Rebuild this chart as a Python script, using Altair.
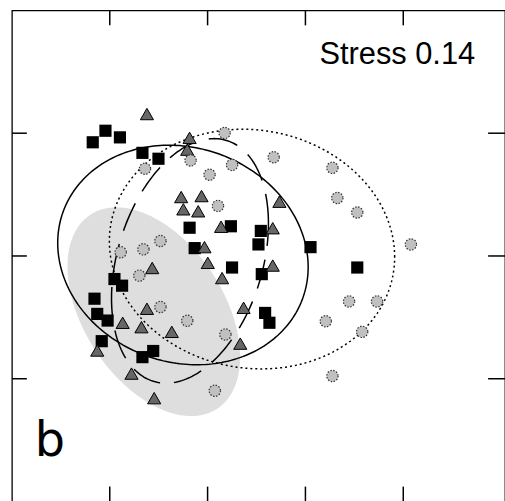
import numpy as np
import pandas as pd
import altair as alt

# NMDS scores (axis 1, axis 2) for the three groups of samples
sq_x = [-1.087, -1.022, -0.948, -0.833, -0.751, -0.592, -0.381, -0.566, -0.228, -0.240,
        0.026, -0.375, -0.223, 0.265, -0.976, -0.937, -1.078, -1.064, -1.011, -0.206,
        -0.184, -1.041, -0.778, -0.833]
sq_y = [0.463, 0.510, 0.483, 0.420, 0.396, 0.115, 0.121, 0.032, 0.102, 0.047,
        0.036, -0.047, -0.074, -0.047, -0.094, -0.121, -0.174, -0.236, -0.263, -0.232,
        -0.272, -0.347, -0.387, -0.412]

tri_x = [-0.810, -0.592, -0.604, -0.635, -0.531, -0.624, -0.548, -0.133, -0.431, -0.167,
         -0.516, -0.499, -0.167, -0.783, -0.426, -0.810, -0.316, -0.934, -0.838, -0.683,
         -0.333, -1.064, -0.889, -0.773]
tri_y = [0.578, 0.481, 0.433, 0.240, 0.244, 0.190, 0.182, 0.221, 0.119, 0.113,
         0.036, -0.028, -0.039, -0.049, -0.090, -0.215, -0.211, -0.272, -0.290, -0.309,
         -0.357, -0.385, -0.479, -0.579]

cir_x = [-0.413, -0.820, -0.587, -0.375, -0.490, -0.162, 0.138, -0.447, 0.163, 0.265,
         0.539, -0.741, -0.828, -0.944, -0.849, -0.741, -0.604, -0.409, 0.223, 0.366,
         0.104, 0.290, -0.463, 0.138]
cir_y = [0.501, 0.355, 0.389, 0.371, 0.331, 0.402, 0.359, 0.204, 0.236, 0.177,
         0.047, 0.061, 0.027, 0.015, -0.080, -0.208, -0.264, -0.320, -0.185, -0.185,
         -0.266, -0.309, -0.549, -0.489]

# Confidence ellipses: centre, half extent along each axis,
# and the axis-2 offset of the point at the axis-1 extreme (sets the tilt)
ell_name = ["solid", "dashed", "dotted", "shaded"]
ell_cx = [-0.626, -0.590, -0.273, -0.775]
ell_cy = [0.004, -0.020, 0.028, -0.227]
ell_w = [0.640, 0.401, 0.729, 0.441]
ell_h = [0.447, 0.498, 0.488, 0.425]
ell_r = [-0.049, 0.152, -0.032, -0.184]

x_ticks = [-1.0, -0.5, 0.0, 0.5]
y_ticks = [-0.5, 0.0, 0.5]

stress_label = "Stress 0.14"
panel_label = "b"

W, H = 496, 494
xs = alt.Scale(domain=[-1.5, 1.02], nice=False, zero=False)
ys = alt.Scale(domain=[-1.0, 1.0], nice=False, zero=False)


def outline(i, n=241):
    t = np.linspace(0, 2 * np.pi, n)
    s = np.sqrt(ell_h[i] ** 2 - ell_r[i] ** 2)
    return pd.DataFrame({
        "x": ell_cx[i] + ell_w[i] * np.cos(t),
        "y": ell_cy[i] + ell_r[i] * np.cos(t) + s * np.sin(t),
        "k": np.arange(n),
    })


def band(i, n=181):
    t = np.linspace(0, np.pi, n)
    s = np.sqrt(ell_h[i] ** 2 - ell_r[i] ** 2)
    mid = ell_cy[i] + ell_r[i] * np.cos(t)
    return pd.DataFrame({
        "x": ell_cx[i] + ell_w[i] * np.cos(t),
        "y": mid + s * np.sin(t),
        "y2": mid - s * np.sin(t),
    })


shade = alt.Chart(band(3)).mark_area(color="#dedede", opacity=1).encode(
    x=alt.X("x:Q", scale=xs, axis=None),
    y=alt.Y("y:Q", scale=ys, axis=None),
    y2="y2:Q",
)


def ring(i, dash=None):
    kw = dict(color="black", strokeWidth=1.5)
    if dash:
        kw["strokeDash"] = dash
    return alt.Chart(outline(i)).mark_line(**kw).encode(
        x=alt.X("x:Q", scale=xs, axis=None),
        y=alt.Y("y:Q", scale=ys, axis=None),
        order="k:Q",
    )


solid = ring(0)
dashed = ring(1, [30, 14])
dotted = ring(2, [2, 3])

squares = alt.Chart(pd.DataFrame({"x": sq_x, "y": sq_y})).mark_point(
    shape="square", filled=True, color="black", size=150, opacity=1
).encode(x=alt.X("x:Q", scale=xs, axis=None), y=alt.Y("y:Q", scale=ys, axis=None))

triangles = alt.Chart(pd.DataFrame({"x": tri_x, "y": tri_y})).mark_point(
    shape="triangle-up", filled=True, fill="#676767", stroke="black",
    strokeWidth=1, size=175, opacity=1
).encode(x=alt.X("x:Q", scale=xs, axis=None), y=alt.Y("y:Q", scale=ys, axis=None))

circles = alt.Chart(pd.DataFrame({"x": cir_x, "y": cir_y})).mark_point(
    shape="circle", filled=True, fill="#c0c0c0", stroke="#333333",
    strokeWidth=1.2, strokeDash=[1.5, 1.5], size=130, opacity=1
).encode(x=alt.X("x:Q", scale=xs, axis=None), y=alt.Y("y:Q", scale=ys, axis=None))

xt = pd.DataFrame({"x": x_ticks})
yt = pd.DataFrame({"y": y_ticks})
tick_style = dict(color="black", strokeWidth=1.5)
top_ticks = alt.Chart(xt).mark_rule(**tick_style).encode(
    x=alt.X("x:Q", scale=xs, axis=None), y=alt.value(0), y2=alt.value(15))
bottom_ticks = alt.Chart(xt).mark_rule(**tick_style).encode(
    x=alt.X("x:Q", scale=xs, axis=None), y=alt.value(H - 15), y2=alt.value(H))
left_ticks = alt.Chart(yt).mark_rule(**tick_style).encode(
    y=alt.Y("y:Q", scale=ys, axis=None), x=alt.value(0), x2=alt.value(15))
right_ticks = alt.Chart(yt).mark_rule(**tick_style).encode(
    y=alt.Y("y:Q", scale=ys, axis=None), x=alt.value(W - 17), x2=alt.value(W))

stress = alt.Chart(pd.DataFrame({"t": [stress_label]})).mark_text(
    align="right", baseline="alphabetic", fontSize=31, font="Liberation Sans",
    color="black"
).encode(text="t:N", x=alt.value(466), y=alt.value(54))

panel = alt.Chart(pd.DataFrame({"t": [panel_label]})).mark_text(
    align="left", baseline="alphabetic", fontSize=48, font="DejaVu Sans",
    color="black"
).encode(text="t:N", x=alt.value(23), y=alt.value(448))

chart = alt.layer(
    shade, solid, dashed, dotted, squares, triangles, circles,
    top_ticks, bottom_ticks, left_ticks, right_ticks, stress, panel,
).properties(
    width=W, height=H,
    padding={"left": 12, "top": 9, "right": 0, "bottom": 0},
    autosize=alt.AutoSizeParams(type="none"),
    background="white",
).configure_view(stroke="black", strokeWidth=1.3)

chart.save("out.html", embed_options={"renderer": "svg", "actions": False})
